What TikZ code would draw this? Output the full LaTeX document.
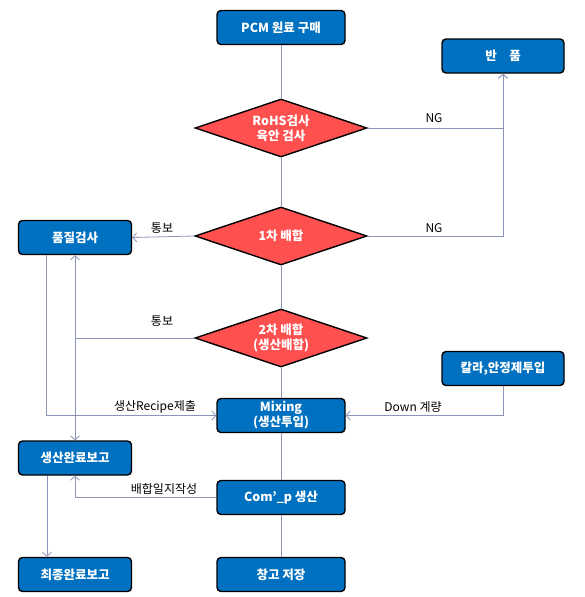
\documentclass[tikz,border=0pt]{standalone}
\usepackage{fontspec}
\setmainfont{Noto Sans CJK KR}
\usetikzlibrary{shapes.geometric,arrows.meta}
\definecolor{boxblue}{HTML}{0070C0}
\definecolor{diared}{HTML}{FF5050}
\definecolor{linegray}{HTML}{8C94BA}
\begin{document}
\begin{tikzpicture}[x=1pt, y=-1pt,
  box/.style = {draw=black, line width=1.4pt, rounded corners=4pt, fill=boxblue, text=white, font=\bfseries\fontsize{12.5}{15}\selectfont, minimum width=128pt, minimum height=34pt, align=center, inner sep=0pt},
  check/.style = {diamond, draw=black, line width=1.4pt, fill=diared, text=white, font=\bfseries\fontsize{12.5}{15}\selectfont, minimum width=172pt, minimum height=58pt, aspect=3, align=center, inner sep=0pt},
  flow/.style = {draw=linegray, line width=0.8pt},
  arr/.style = {flow, -{Straight Barb[length=4pt, width=9pt]}},
  lbl/.style = {font=\fontsize{12}{14}\selectfont, text=black, inner sep=0pt}]
\useasboundingbox (0,0) rectangle (584,597);
% main column
\node[box] (pcm) at (281,27.5) {PCM 원료 구매};
\node[check] (rohs) at (281,128) {RoHS검사\\육안 검사};
\node[check] (mix1) at (281,236) {1차 배합};
\node[check] (mix2) at (281,338) {2차 배합\\(생산배합)};
\node[box] (mixing) at (281,415.5) {Mixing\\(생산투입)};
\node[box] (comp) at (281,497.5) {Com’\_p 생산};
\node[box] (store) at (281,574.5) {창고 저장};
% side boxes
\node[box, minimum width=122pt] (ban) at (503,56) {반\hspace{1em}품};
\node[box, minimum width=122pt] (color) at (503,368.5) {칼라,안정제투입};
\node[box, minimum width=113pt] (qc) at (75,237.5) {품질검사};
\node[box, minimum width=113pt] (prodrep) at (75,458) {생산완료보고};
\node[box, minimum width=113pt] (final) at (75,574.5) {최종완료보고};
% straight flow
\draw[flow] (pcm) -- (rohs);
\draw[flow] (rohs) -- (mix1);
\draw[flow] (mix1) -- (mix2);
\draw[flow] (mix2) -- (mixing);
\draw[flow] (mixing) -- (comp);
\draw[flow] (comp) -- (store);
% NG returns
\draw[arr] (rohs.east) -| (ban.south);
\draw[arr] (mix1.east) -| (ban.south);
\node[lbl] (ng1) at (434,118) {NG};
\node[lbl] (ng2) at (434,228) {NG};
% reports
\draw[arr] (mix1.west) -- (qc.east);
\node[lbl] (tb1) at (162,228) {통보};
\draw[arr] (mix2.west) -| (qc.south);
\draw[arr] (mix2.west) -| (prodrep.north);
\node[lbl] (tb2) at (162,321) {통보};
\draw[arr] ([xshift=-29pt]qc.south) |- (mixing.west);
\node[lbl] (recipe) at (155,407) {생산Recipe제출};
\draw[arr] (color.south) |- (mixing.east);
\node[lbl] (down) at (413,407) {Down 계량};
\draw[arr] (comp.west) -| (prodrep.south);
\node[lbl] (diary) at (164,489) {배합일지작성};
\draw[arr] ([xshift=-28pt]prodrep.south) -- ([xshift=-28pt]final.north);
\end{tikzpicture}
\end{document}
